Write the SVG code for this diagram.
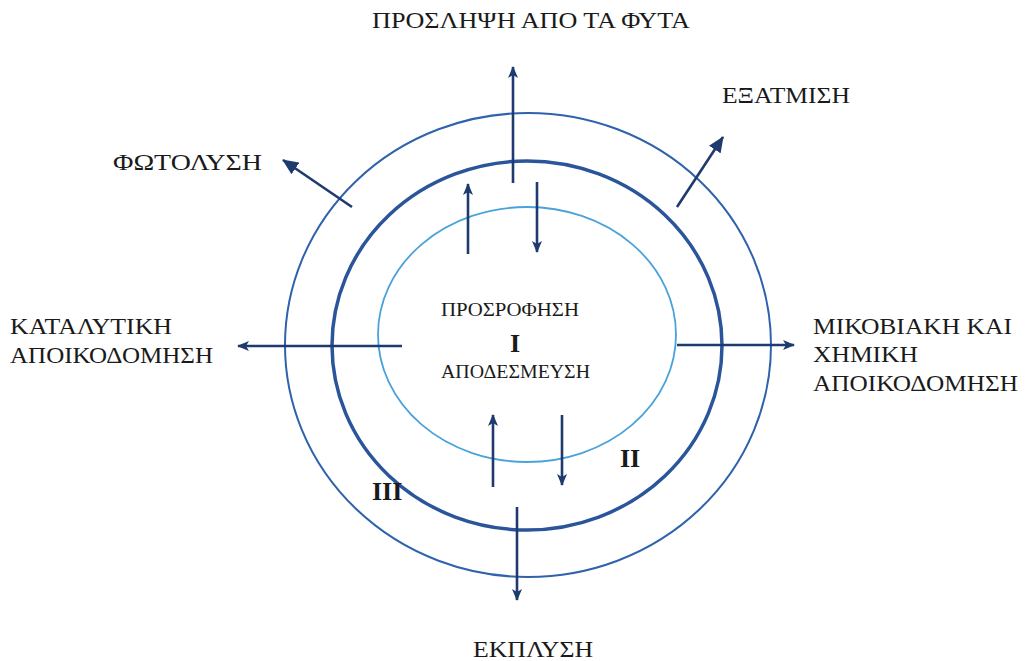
<svg xmlns="http://www.w3.org/2000/svg" width="1025" height="661" viewBox="0 0 1025 661">
<style>
.t{font-family:"Liberation Serif","Times New Roman",serif;fill:#1a1a1a;}
.lbl{font-size:23px;}
.c{font-size:19px;}
.b{font-size:26px;font-weight:bold;}
.ar{stroke:#1f3a6e;stroke-width:2.6;fill:none;}
</style>
<defs>
<marker id="dart" markerUnits="userSpaceOnUse" viewBox="0 0 12 10" refX="11" refY="5" markerWidth="12" markerHeight="10" orient="auto">
<path d="M0,0 L12,5 L0,10 L3,5 z" fill="#1f3a6e"/>
</marker>
<marker id="tri" markerUnits="userSpaceOnUse" viewBox="0 0 16 14" refX="15" refY="7" markerWidth="16" markerHeight="14" orient="auto">
<path d="M0,0 L16,7 L0,14 z" fill="#1f3a6e"/>
</marker>
</defs>
<rect width="1025" height="661" fill="#ffffff"/>
<g id="rings">
<ellipse id="ring-III" cx="528" cy="345" rx="243" ry="232" fill="none" stroke="#2f62ad" stroke-width="2"/>
<ellipse id="ring-II" cx="527" cy="345.5" rx="195" ry="184.5" fill="none" stroke="#2a559b" stroke-width="3.5"/>
<ellipse id="ring-I" cx="527" cy="334.5" rx="149" ry="127.5" fill="none" stroke="#4aa2da" stroke-width="1.8"/>
</g>
<g id="connectors">
<line class="ar" x1="513" y1="183" x2="513" y2="67" marker-end="url(#dart)"/>
<line class="ar" x1="468" y1="254" x2="468" y2="184" marker-end="url(#dart)"/>
<line class="ar" x1="537" y1="182" x2="537" y2="252" marker-end="url(#dart)"/>
<line class="ar" x1="493" y1="487" x2="493" y2="415" marker-end="url(#dart)"/>
<line class="ar" x1="562" y1="415" x2="562" y2="485" marker-end="url(#dart)"/>
<line class="ar" x1="517" y1="507" x2="517" y2="600" marker-end="url(#dart)"/>
<line class="ar" x1="402" y1="346" x2="238" y2="346" marker-end="url(#dart)"/>
<line class="ar" x1="677" y1="345" x2="794" y2="345" marker-end="url(#dart)"/>
<line class="ar" x1="352" y1="207" x2="283" y2="160" marker-end="url(#tri)"/>
<line class="ar" x1="677" y1="207" x2="723" y2="137" marker-end="url(#tri)"/>
</g>
<g id="title"><text class="t lbl" x="372" y="28" textLength="318" lengthAdjust="spacingAndGlyphs">ΠΡΟΣΛΗΨΗ ΑΠΟ ΤΑ ΦΥΤΑ</text></g>
<g id="evaporation"><text class="t lbl" x="722" y="103" textLength="128" lengthAdjust="spacingAndGlyphs">ΕΞΑΤΜΙΣΗ</text></g>
<g id="photolysis"><text class="t lbl" x="113" y="170" textLength="149" lengthAdjust="spacingAndGlyphs">ΦΩΤΟΛΥΣΗ</text></g>
<g id="catalytic"><text class="t lbl" x="10" y="334" textLength="162" lengthAdjust="spacingAndGlyphs">ΚΑΤΑΛΥΤΙΚΗ</text><text class="t lbl" x="10" y="363" textLength="203" lengthAdjust="spacingAndGlyphs">ΑΠΟΙΚΟΔΟΜΗΣΗ</text></g>
<g id="microbial"><text class="t lbl" x="813" y="334" textLength="199" lengthAdjust="spacingAndGlyphs">ΜΙΚΟΒΙΑΚΗ ΚΑΙ</text><text class="t lbl" x="813" y="362" textLength="105" lengthAdjust="spacingAndGlyphs">ΧΗΜΙΚΗ</text><text class="t lbl" x="813" y="391" textLength="205" lengthAdjust="spacingAndGlyphs">ΑΠΟΙΚΟΔΟΜΗΣΗ</text></g>
<g id="leaching"><text class="t lbl" x="473" y="657" textLength="120" lengthAdjust="spacingAndGlyphs">ΕΚΠΛΥΣΗ</text></g>
<g id="zone-I"><text class="t c" x="441" y="316" textLength="138" lengthAdjust="spacingAndGlyphs">ΠΡΟΣΡΟΦΗΣΗ</text><text class="t b" x="515" y="352" text-anchor="middle">I</text><text class="t c" x="441" y="378" textLength="149" lengthAdjust="spacingAndGlyphs">ΑΠΟΔΕΣΜΕΥΣΗ</text></g>
<g id="zone-II"><text class="t b" x="620" y="467">II</text></g>
<g id="zone-III"><text class="t b" x="372" y="500">III</text></g>
</svg>
